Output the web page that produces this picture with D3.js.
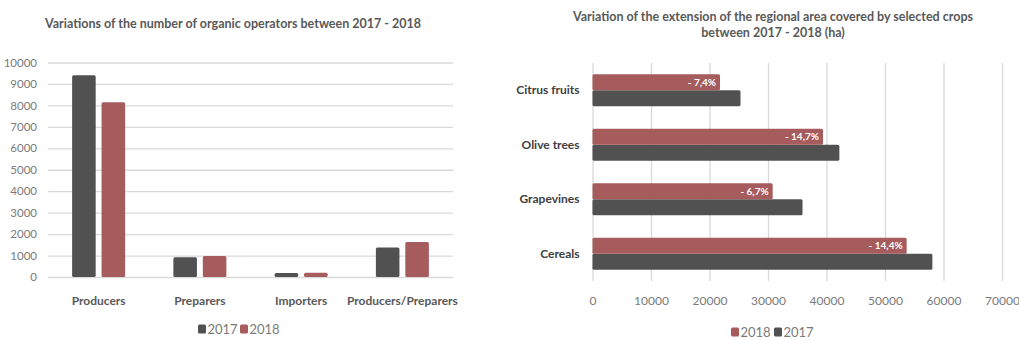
<!DOCTYPE html>
<html>
<head>
<meta charset="utf-8">
<script src="https://cdn.jsdelivr.net/npm/d3@7"></script>
<style>
  html, body { margin: 0; padding: 0; background: #ffffff; }
  svg { display: block; font-family: Lato, "Open Sans", sans-serif; }
</style>
</head>
<body>
<svg id="chart" width="1019" height="340"></svg>
<script>
// Organic operators by type
const operatorTypes = ["Producers", "Preparers", "Importers", "Producers/Preparers"];
const operatorYears = ["2017", "2018"];
const operators2017 = [9400, 920, 190, 1370];
const operators2018 = [8150, 980, 200, 1630];
const operatorTicks = [0, 1000, 2000, 3000, 4000, 5000, 6000, 7000, 8000, 9000, 10000];

// Regional area covered by selected crops (ha)
const crops = ["Citrus fruits", "Olive trees", "Grapevines", "Cereals"];
const cropYears = ["2018", "2017"];
const area2018 = [21800, 39400, 30800, 53700];
const area2017 = [25300, 42200, 35900, 58100];
const cropChange = ["- 7,4%", "- 14,7%", "- 6,7%", "- 14,4%"];
const areaTicks = [0, 10000, 20000, 30000, 40000, 50000, 60000, 70000];

const colors = { "2017": "#515151", "2018": "#a65b5d" };
const gridColor = "#d9d9d9";
const titleColor = "#595959";
const tickColor = "#7a7a7a";

const svg = d3.select("#chart");

// ---------- Left: grouped column chart ----------
const left = svg.append("g");
const y = d3.scaleLinear().domain([0, 10000]).range([277, 62.5]);
const x0 = d3.scaleBand().domain(operatorTypes).range([48, 453]).padding(0);
const groupW = 53;
const x1 = d3.scaleBand().domain(operatorYears)
  .range([(x0.bandwidth() - groupW) / 2, (x0.bandwidth() + groupW) / 2])
  .paddingInner(0.2);

left.append("text")
  .attr("x", 233).attr("y", 28)
  .attr("text-anchor", "middle")
  .attr("font-size", 12.5).attr("font-weight", 700)
  .attr("fill", titleColor)
  .text("Variations of the number of organic operators between 2017 - 2018");

const yAxis = left.append("g")
  .attr("transform", "translate(48,0)")
  .call(d3.axisLeft(y).tickValues(operatorTicks).tickSize(-405).tickFormat(d3.format("d")).tickPadding(11));
yAxis.select(".domain").remove();
yAxis.selectAll(".tick line").attr("stroke", gridColor).attr("stroke-width", 1.3);
yAxis.selectAll(".tick text").attr("fill", tickColor).attr("font-size", 11.5).attr("font-family", "Lato, sans-serif");

const opRows = operatorTypes.map((t, i) => ({ type: t, values: [
  { year: "2017", v: operators2017[i] }, { year: "2018", v: operators2018[i] }] }));

const groups = left.selectAll("g.cat").data(opRows).join("g")
  .attr("class", "cat")
  .attr("transform", d => `translate(${x0(d.type)},0)`);
groups.selectAll("rect").data(d => d.values).join("rect")
  .attr("x", d => x1(d.year))
  .attr("width", x1.bandwidth())
  .attr("y", d => y(d.v))
  .attr("height", d => y(0) - y(d.v))
  .attr("rx", 1.5)
  .attr("fill", d => colors[d.year]);

const xAxis = left.append("g")
  .attr("transform", "translate(0,277)")
  .call(d3.axisBottom(x0).tickSize(0).tickPadding(19));
xAxis.select(".domain").remove();
xAxis.selectAll(".tick text").attr("fill", titleColor).attr("font-size", 12)
  .attr("font-weight", 700).attr("font-family", "Lato, sans-serif");

// legend
const legL = left.append("g").attr("transform", "translate(198,329)");
operatorYears.forEach((yr, i) => {
  const g = legL.append("g").attr("transform", `translate(${i * 42},0)`);
  g.append("rect").attr("x", 0).attr("y", -4.5).attr("width", 8).attr("height", 9).attr("rx", 1.5).attr("fill", colors[yr]);
  g.append("text").attr("x", 9.5).attr("y", 0).attr("dy", "0.35em")
    .attr("font-size", 13).attr("fill", tickColor).text(yr);
});

// ---------- Right: grouped horizontal bar chart ----------
const right = svg.append("g");
const xs = d3.scaleLinear().domain([0, 70000]).range([592.5, 1002]);
const ys0 = d3.scaleBand().domain(crops).range([63, 281]).padding(0);
const pairH = 32;
const ys1 = d3.scaleBand().domain(cropYears)
  .range([(ys0.bandwidth() - pairH) / 2, (ys0.bandwidth() + pairH) / 2])
  .padding(0);

const rTitle = right.append("text")
  .attr("text-anchor", "middle")
  .attr("font-size", 12.5).attr("font-weight", 700)
  .attr("fill", titleColor);
rTitle.append("tspan").attr("x", 773).attr("y", 21)
  .text("Variation of the extension of the regional area covered by selected crops");
rTitle.append("tspan").attr("x", 773).attr("y", 37)
  .text("between 2017 - 2018 (ha)");

const xsAxis = right.append("g")
  .attr("transform", "translate(0,281)")
  .call(d3.axisBottom(xs).tickValues(areaTicks).tickSize(-218).tickFormat(d3.format("d")).tickPadding(15));
xsAxis.select(".domain").remove();
xsAxis.selectAll(".tick line").attr("stroke", gridColor).attr("stroke-width", 1.3);
xsAxis.selectAll(".tick text").attr("fill", tickColor).attr("font-size", 12).attr("font-family", "Lato, sans-serif");

const cropRows = crops.map((c, i) => ({ crop: c, change: cropChange[i], values: [
  { year: "2017", v: area2017[i] }, { year: "2018", v: area2018[i] }] }));

const rows = right.selectAll("g.crop").data(cropRows).join("g")
  .attr("class", "crop")
  .attr("transform", d => `translate(0,${ys0(d.crop)})`);
rows.selectAll("rect").data(d => d.values).join("rect")
  .attr("x", xs(0))
  .attr("y", d => ys1(d.year))
  .attr("height", ys1.bandwidth())
  .attr("width", d => xs(d.v) - xs(0))
  .attr("rx", 1.5)
  .attr("fill", d => colors[d.year]);
rows.append("text")
  .attr("x", d => xs(d.values[1].v) - 4)
  .attr("y", ys1("2018") + ys1.bandwidth() / 2)
  .attr("dy", "0.35em")
  .attr("text-anchor", "end")
  .attr("font-size", 10).attr("font-weight", 700)
  .attr("fill", "#ffffff")
  .text(d => d.change);

const ysAxis = right.append("g")
  .attr("transform", "translate(592.5,0)")
  .call(d3.axisLeft(ys0).tickSize(0).tickPadding(13));
ysAxis.select(".domain").remove();
ysAxis.selectAll(".tick text").attr("fill", "#404040").attr("font-size", 12)
  .attr("font-weight", 700).attr("font-family", "Lato, sans-serif");

// legend
const legR = right.append("g").attr("transform", "translate(731,332)");
cropYears.forEach((yr, i) => {
  const g = legR.append("g").attr("transform", `translate(${i * 43},0)`);
  g.append("rect").attr("x", 0).attr("y", -4.5).attr("width", 8).attr("height", 9).attr("rx", 1.5).attr("fill", colors[yr]);
  g.append("text").attr("x", 9.5).attr("y", 0).attr("dy", "0.35em")
    .attr("font-size", 13).attr("fill", tickColor).text(yr);
});
</script>
</body>
</html>
